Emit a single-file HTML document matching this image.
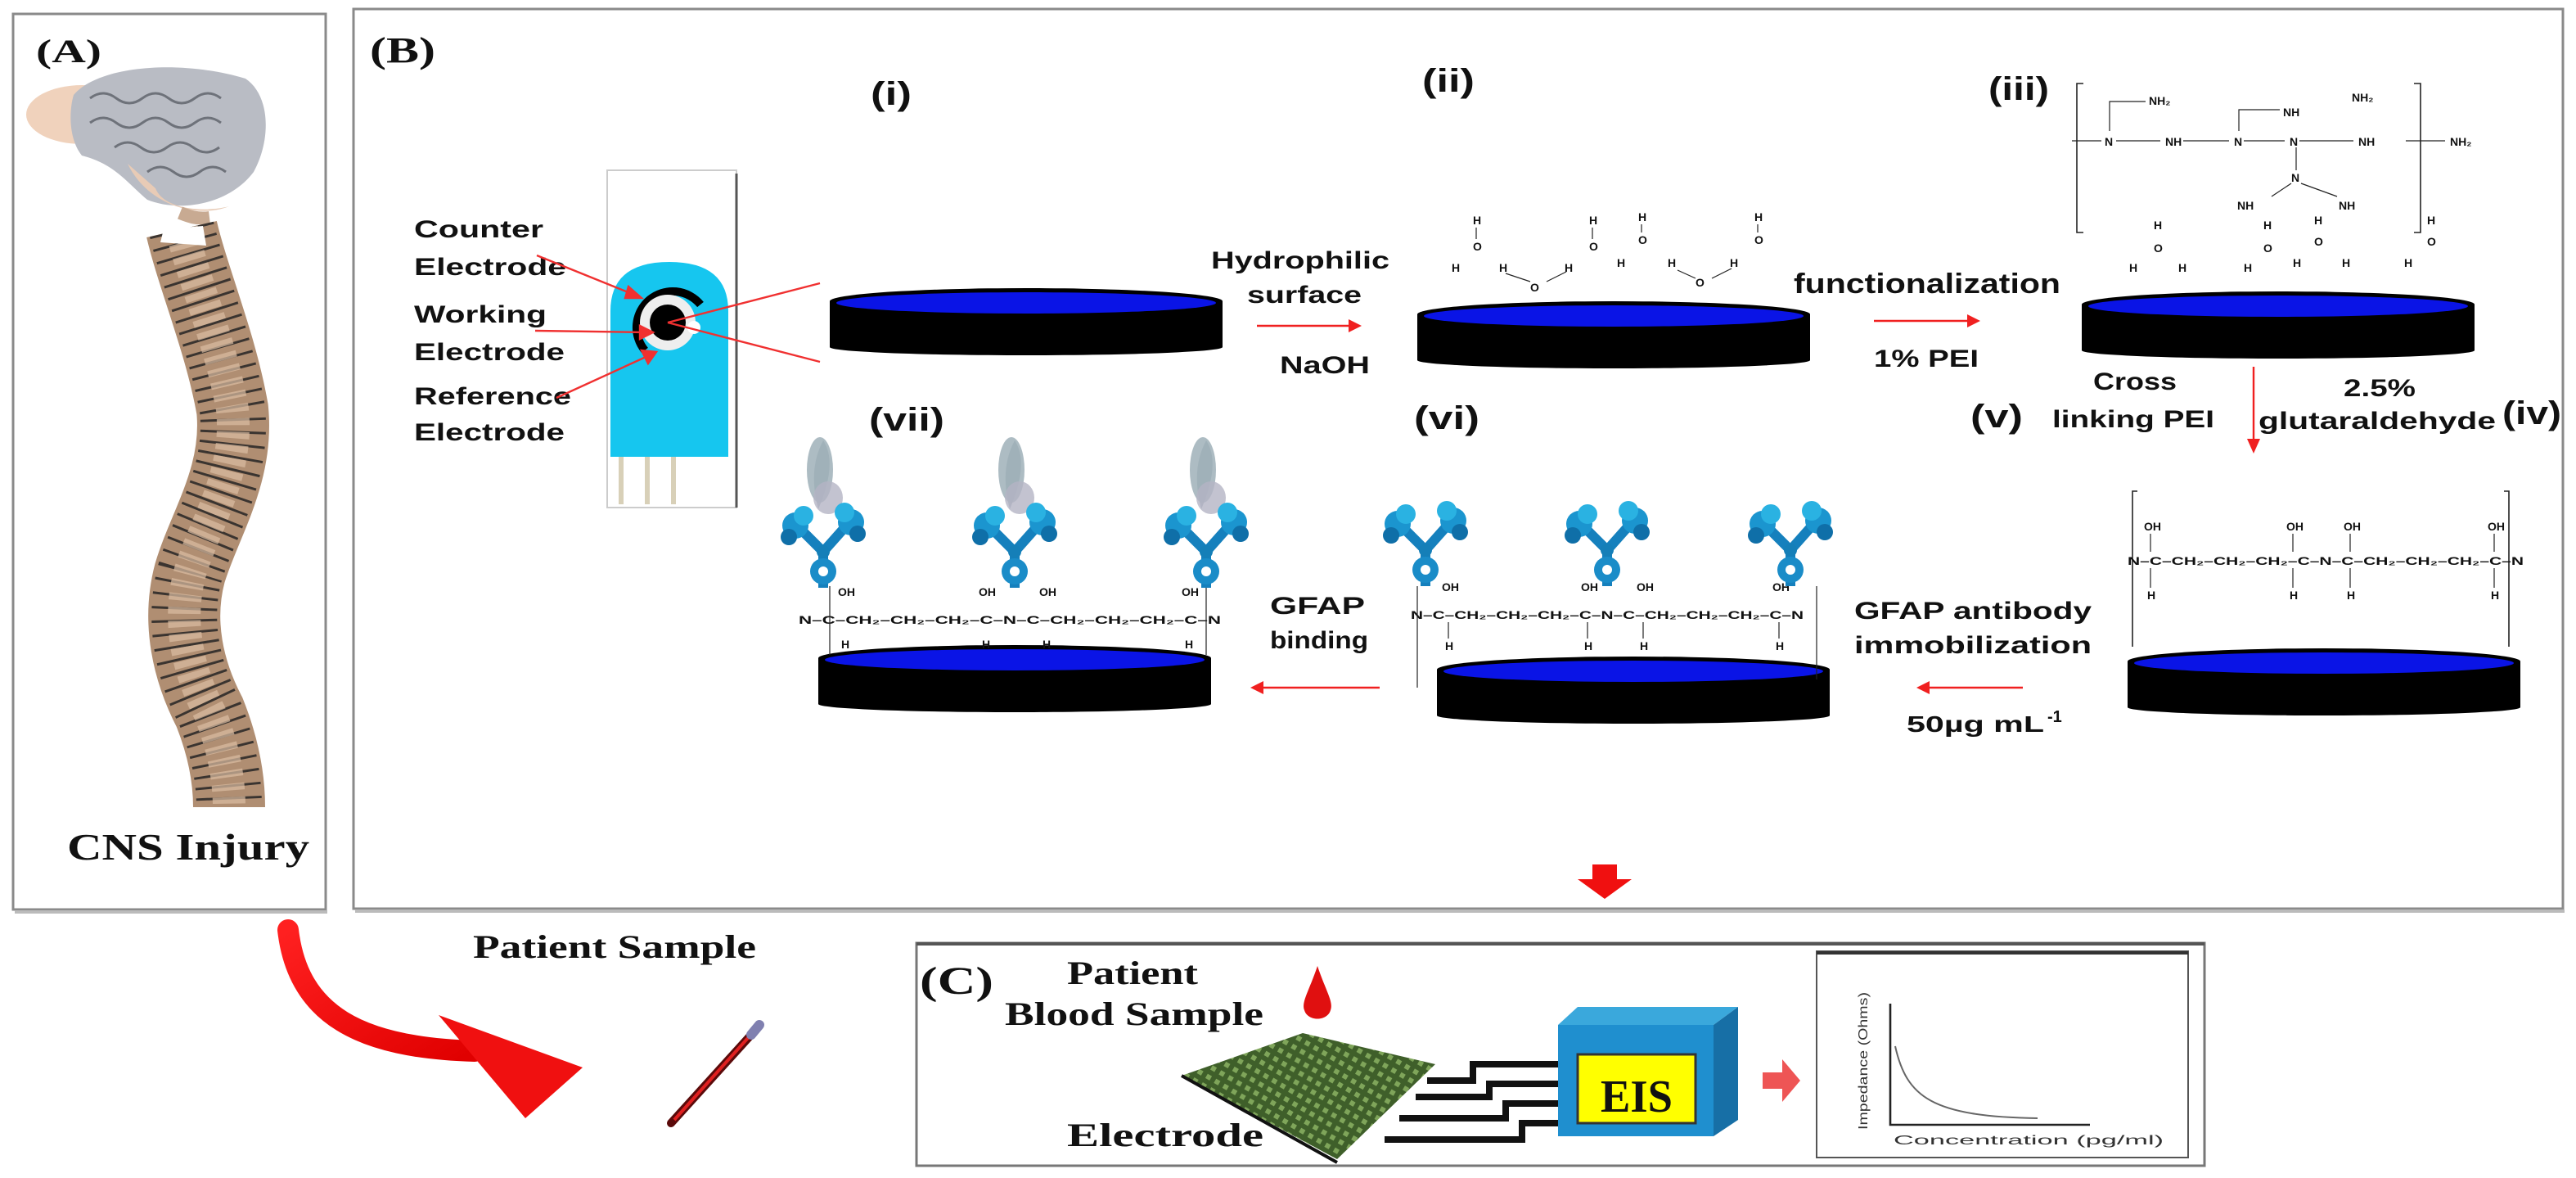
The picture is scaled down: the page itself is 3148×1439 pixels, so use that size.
<!DOCTYPE html>
<html><head><meta charset="utf-8"><style>
html,body{margin:0;padding:0;background:#fff;}
svg{display:block}
.c{font-family:"Liberation Sans",sans-serif;font-weight:bold;fill:#111}
.s{font-family:"Liberation Serif",serif;font-weight:bold;fill:#111}
.t{font-family:"Liberation Sans",sans-serif;font-weight:bold;fill:#111;font-size:7px}
</style></head><body>
<svg width="3148" height="1439" viewBox="0 0 1574 719.5" xmlns="http://www.w3.org/2000/svg">
<defs>
<pattern id="grid" width="6" height="6" patternUnits="userSpaceOnUse" patternTransform="rotate(30)">
<rect width="6" height="6" fill="#3f5f2a"/><rect x="1" y="1" width="3" height="3" fill="#7fa55a"/>
</pattern>
<linearGradient id="rg" x1="0" y1="0" x2="1" y2="1"><stop offset="0" stop-color="#ff2020"/><stop offset="1" stop-color="#e00000"/></linearGradient>
<g id="disc">
<rect x="0" y="8" width="240" height="28" fill="#000"/>
<ellipse cx="120" cy="36" rx="120" ry="5" fill="#000"/>
<ellipse cx="120" cy="8" rx="120" ry="8" fill="#000"/>
<ellipse cx="120" cy="9" rx="116" ry="6.5" fill="#0a14e6"/>
</g>
<g id="ab">
<path d="M0,0 L0,-22 M0,-22 L-16,-38 M0,-22 L16,-40" stroke="#1580bd" stroke-width="6" fill="none"/>
<circle cx="-17" cy="-38" r="8" fill="#1b95cf"/><circle cx="-12" cy="-44" r="6" fill="#2ab2e2"/><circle cx="-21" cy="-31" r="5" fill="#0f6fa8"/>
<circle cx="17" cy="-40" r="8" fill="#1b95cf"/><circle cx="13" cy="-46" r="6" fill="#2ab2e2"/><circle cx="21" cy="-33" r="5" fill="#0f6fa8"/>
<circle cx="0" cy="-10" r="8" fill="#1a8cc8"/><circle cx="0" cy="-10" r="3" fill="#fff"/>
<circle cx="0" cy="-22" r="4" fill="#157fb8"/>
</g>
<g id="ag">
<path d="M0,-90 C-8,-75 -6,-60 -3,-48 C2,-60 8,-78 0,-90Z" fill="#a8b4bc"/>
<ellipse cx="-2" cy="-72" rx="8" ry="20" fill="#9fb0b8" opacity="0.85"/>
<ellipse cx="3" cy="-55" rx="9" ry="10" fill="#b4b4c4" opacity="0.8"/>
</g>
</defs>

<!-- Box A -->
<rect x="8" y="8.5" width="191" height="547" fill="#fff" stroke="#8a8a8a" stroke-width="1.5"/>
<line x1="9" y1="557" x2="200" y2="557" stroke="#bbb" stroke-width="2"/>
<!-- brain -->
<ellipse cx="50" cy="70" rx="34" ry="18" fill="#f0d2bc"/>
<path d="M45,58 C60,40 110,36 150,48 C165,58 166,85 155,105 C140,125 110,130 90,122 C78,112 70,100 50,95 C42,85 42,68 45,58Z" fill="#b9bcc4"/>
<path d="M78,100 C90,125 120,134 140,126 C125,130 100,128 95,115Z" fill="#e8cbb6"/>
<path d="M55,60 q8,-6 16,0 q8,6 16,0 q8,-6 16,0 q8,6 16,0 q8,-6 16,0 M55,75 q8,-6 16,0 q8,6 16,0 q8,-6 16,0 q8,6 16,0 q8,-6 16,0 M70,90 q8,-6 16,0 q8,6 16,0 q8,-6 16,0 q8,6 16,0 M90,105 q8,-6 16,0 q8,6 16,0 q8,-6 16,0" stroke="#6e727a" stroke-width="1.5" fill="none"/>
<path d="M110,130 C115,132 120,134 128,133" stroke="#c8aa92" stroke-width="8" fill="none"/>
<text class="s" x="22" y="38" font-size="20" textLength="40" lengthAdjust="spacingAndGlyphs">(A)</text>
<!-- spine -->
<path d="M111,140 C118,170 135,210 142,250 C146,290 125,320 116,350 C108,380 115,410 128,435 C138,460 140,480 140,493" stroke="#b08e72" stroke-width="44" fill="none"/>
<path d="M111,140 C118,170 135,210 142,250 C146,290 125,320 116,350 C108,380 115,410 128,435 C138,460 140,480 140,493" stroke="#3a3430" stroke-width="40" stroke-dasharray="1.5 6" fill="none"/>
<path d="M111,140 C118,170 135,210 142,250 C146,290 125,320 116,350 C108,380 115,410 128,435 C138,460 140,480 140,493" stroke="#dcbda2" stroke-width="20" stroke-dasharray="4 4" fill="none" opacity="0.7"/>
<path d="M98,148 L100,140 L124,138 L126,150Z" fill="#fff"/>
<text class="s" x="41" y="525" font-size="23" textLength="148" lengthAdjust="spacingAndGlyphs">CNS Injury</text>

<!-- Box B -->
<rect x="216" y="5.5" width="1350" height="549.5" fill="none" stroke="#8a8a8a" stroke-width="1.5"/>
<line x1="217" y1="556.5" x2="1567" y2="556.5" stroke="#bbb" stroke-width="2"/>
<text class="s" x="226" y="38" font-size="22" textLength="40" lengthAdjust="spacingAndGlyphs">(B)</text>

<!-- electrode strip -->
<rect x="371" y="104" width="79" height="206" fill="#fff" stroke="#ccc" stroke-width="1"/>
<line x1="450" y1="106" x2="450" y2="310" stroke="#555" stroke-width="1.5"/>
<path d="M373,279 L373,190 Q373,160 409,160 Q445,160 445,190 L445,279 Z" fill="#16c6ef"/>
<rect x="378" y="279" width="3" height="29" fill="#d8d0b8"/><rect x="394" y="279" width="3" height="29" fill="#d8d0b8"/><rect x="410" y="279" width="3" height="29" fill="#d8d0b8"/>
<path d="M394,214 A22,22 0 1 1 428,186" stroke="#000" stroke-width="5" fill="none"/>
<circle cx="408" cy="197" r="17" fill="#eee"/>
<circle cx="408" cy="197" r="11" fill="#000"/>
<circle cx="424" cy="200" r="4" fill="#fff"/>
<text class="c" x="253" y="145" font-size="15" textLength="79" lengthAdjust="spacingAndGlyphs">Counter</text>
<text class="c" x="253" y="168" font-size="15" textLength="93" lengthAdjust="spacingAndGlyphs">Electrode</text>
<text class="c" x="253" y="197" font-size="15" textLength="81" lengthAdjust="spacingAndGlyphs">Working</text>
<text class="c" x="253" y="220" font-size="15" textLength="92" lengthAdjust="spacingAndGlyphs">Electrode</text>
<text class="c" x="253" y="247" font-size="15" textLength="96" lengthAdjust="spacingAndGlyphs">Reference</text>
<text class="c" x="253" y="269" font-size="15" textLength="92" lengthAdjust="spacingAndGlyphs">Electrode</text>
<g stroke="#f03030" stroke-width="1.2" fill="#f03030">
<line x1="328" y1="156" x2="390" y2="181"/><polygon points="392,182 384,175 382,182"/>
<line x1="327" y1="202" x2="396" y2="203"/><polygon points="399,203 391,199 391,207"/>
<line x1="340" y1="243" x2="399" y2="216"/><polygon points="401,215 392,214 396,222"/>
<line x1="408" y1="197" x2="501" y2="173"/><line x1="408" y1="197" x2="501" y2="221"/>
</g>

<!-- discs -->
<use href="#disc" x="507" y="176"/>
<use href="#disc" x="866" y="184"/>
<use href="#disc" x="1272" y="178"/>
<use href="#disc" x="500" y="394"/>
<use href="#disc" x="878" y="401"/>
<use href="#disc" x="1300" y="396"/>

<text class="c" x="532" y="64" font-size="20" textLength="25" lengthAdjust="spacingAndGlyphs">(i)</text>
<text class="c" x="869" y="56" font-size="20" textLength="32" lengthAdjust="spacingAndGlyphs">(ii)</text>
<text class="c" x="1215" y="61" font-size="20" textLength="37" lengthAdjust="spacingAndGlyphs">(iii)</text>
<text class="c" x="1529" y="259" font-size="20" textLength="36" lengthAdjust="spacingAndGlyphs">(iv)</text>
<text class="c" x="1204" y="261" font-size="20" textLength="32" lengthAdjust="spacingAndGlyphs">(v)</text>
<text class="c" x="864" y="262" font-size="20" textLength="40" lengthAdjust="spacingAndGlyphs">(vi)</text>
<text class="c" x="531" y="263" font-size="20" textLength="46" lengthAdjust="spacingAndGlyphs">(vii)</text>

<text class="c" x="740" y="164" font-size="15" textLength="109" lengthAdjust="spacingAndGlyphs">Hydrophilic</text>
<text class="c" x="762" y="185" font-size="15" textLength="70" lengthAdjust="spacingAndGlyphs">surface</text>
<text class="c" x="782" y="228" font-size="15" textLength="55" lengthAdjust="spacingAndGlyphs">NaOH</text>
<line x1="768" y1="199" x2="826" y2="199" stroke="#f02020" stroke-width="1.2"/><polygon points="832,199 824,195 824,203" fill="#f02020"/>
<text class="c" x="1096" y="179" font-size="17" textLength="163" lengthAdjust="spacingAndGlyphs">functionalization</text>
<line x1="1145" y1="196" x2="1204" y2="196" stroke="#f02020" stroke-width="1.2"/><polygon points="1210,196 1202,192 1202,200" fill="#f02020"/>
<text class="c" x="1145" y="224" font-size="15" textLength="64" lengthAdjust="spacingAndGlyphs">1% PEI</text>
<text class="c" x="1279" y="238" font-size="15" textLength="51" lengthAdjust="spacingAndGlyphs">Cross</text>
<text class="c" x="1254" y="261" font-size="15" textLength="99" lengthAdjust="spacingAndGlyphs">linking PEI</text>
<text class="c" x="1432" y="242" font-size="15" textLength="44" lengthAdjust="spacingAndGlyphs">2.5%</text>
<text class="c" x="1380" y="262" font-size="15" textLength="145" lengthAdjust="spacingAndGlyphs">glutaraldehyde</text>
<line x1="1377" y1="224" x2="1377" y2="270" stroke="#f02020" stroke-width="1.2"/><polygon points="1377,277 1373,268 1381,268" fill="#f02020"/>

<!-- water ii -->
<g class="t">
<text x="900" y="137">H</text><text x="971" y="137">H</text><text x="1001" y="135">H</text><text x="1072" y="135">H</text>
<text x="900" y="153">O</text><text x="971" y="153">O</text><text x="1001" y="149">O</text><text x="1072" y="149">O</text>
<text x="887" y="166">H</text><text x="916" y="166">H</text><text x="956" y="166">H</text><text x="988" y="163">H</text><text x="1019" y="163">H</text><text x="1057" y="163">H</text>
<text x="935" y="178">O</text><text x="1036" y="175">O</text>
</g>
<g stroke="#222" stroke-width="0.6">
<line x1="902" y1="139" x2="902" y2="146"/><line x1="973" y1="139" x2="973" y2="146"/><line x1="1003" y1="137" x2="1003" y2="142"/><line x1="1074" y1="137" x2="1074" y2="142"/>
<line x1="920" y1="167" x2="935" y2="172"/><line x1="945" y1="172" x2="957" y2="166"/><line x1="1025" y1="165" x2="1036" y2="170"/><line x1="1046" y1="170" x2="1058" y2="164"/>
</g>
<!-- PEI iii -->
<path d="M1273,51 h-4 v91 h4 M1475,51 h4 v91 h-4" stroke="#222" stroke-width="0.8" fill="none"/>
<g class="t">
<text x="1286" y="89">N</text><text x="1323" y="89">NH</text><text x="1365" y="89">N</text><text x="1399" y="89">N</text><text x="1441" y="89">NH</text><text x="1497" y="89">NH₂</text>
<text x="1313" y="64">NH₂</text><text x="1395" y="71">NH</text><text x="1437" y="62">NH₂</text>
<text x="1400" y="111">N</text><text x="1367" y="128">NH</text><text x="1429" y="128">NH</text>
<text x="1316" y="140">H</text><text x="1316" y="154">O</text><text x="1301" y="166">H</text><text x="1331" y="166">H</text>
<text x="1383" y="140">H</text><text x="1383" y="154">O</text><text x="1414" y="137">H</text><text x="1414" y="150">O</text>
<text x="1371" y="166">H</text><text x="1401" y="163">H</text><text x="1431" y="163">H</text>
<text x="1483" y="137">H</text><text x="1483" y="150">O</text><text x="1469" y="163">H</text>
</g>
<g stroke="#222" stroke-width="0.6">
<line x1="1266" y1="86" x2="1284" y2="86"/><line x1="1293" y1="86" x2="1320" y2="86"/><line x1="1334" y1="86" x2="1362" y2="86"/><line x1="1371" y1="86" x2="1396" y2="86"/><line x1="1405" y1="86" x2="1438" y2="86"/><line x1="1470" y1="86" x2="1494" y2="86"/>
<path d="M1289,80 v-18 h22 M1368,80 v-13 h25" fill="none"/><line x1="1403" y1="90" x2="1403" y2="104"/>
<line x1="1400" y1="112" x2="1388" y2="120"/><line x1="1406" y1="112" x2="1428" y2="120"/>
</g>

<!-- structure iv -->
<path d="M1306,300 h-3 v95 M1530,300 h3 v95" stroke="#222" stroke-width="0.8" fill="none"/>
<text class="t" x="1300" y="345" textLength="242" lengthAdjust="spacingAndGlyphs" font-size="7">N–C–CH₂–CH₂–CH₂–C–N–C–CH₂–CH₂–CH₂–C–N</text>
<g class="t"><text x="1310" y="324">OH</text><text x="1397" y="324">OH</text><text x="1432" y="324">OH</text><text x="1520" y="324">OH</text>
<text x="1312" y="366">H</text><text x="1399" y="366">H</text><text x="1434" y="366">H</text><text x="1522" y="366">H</text></g>
<g stroke="#222" stroke-width="0.6"><line x1="1314" y1="326" x2="1314" y2="337"/><line x1="1401" y1="326" x2="1401" y2="337"/><line x1="1436" y1="326" x2="1436" y2="337"/><line x1="1524" y1="326" x2="1524" y2="337"/>
<line x1="1314" y1="347" x2="1314" y2="359"/><line x1="1401" y1="347" x2="1401" y2="359"/><line x1="1436" y1="347" x2="1436" y2="359"/><line x1="1524" y1="347" x2="1524" y2="359"/></g>

<!-- structure vi -->
<text class="t" x="862" y="378" textLength="240" lengthAdjust="spacingAndGlyphs" font-size="7">N–C–CH₂–CH₂–CH₂–C–N–C–CH₂–CH₂–CH₂–C–N</text>
<g class="t"><text x="881" y="361">OH</text><text x="966" y="361">OH</text><text x="1000" y="361">OH</text><text x="1083" y="361">OH</text>
<text x="883" y="397">H</text><text x="968" y="397">H</text><text x="1002" y="397">H</text><text x="1085" y="397">H</text></g>
<g stroke="#222" stroke-width="0.6"><line x1="866" y1="358" x2="866" y2="420"/><line x1="1110" y1="358" x2="1110" y2="415"/>
<line x1="885" y1="380" x2="885" y2="390"/><line x1="970" y1="380" x2="970" y2="390"/><line x1="1004" y1="380" x2="1004" y2="390"/><line x1="1087" y1="380" x2="1087" y2="390"/></g>
<use href="#ab" x="871" y="358"/><use href="#ab" x="982" y="358"/><use href="#ab" x="1094" y="358"/>

<!-- structure vii -->
<text class="t" x="488" y="381" textLength="258" lengthAdjust="spacingAndGlyphs" font-size="7">N–C–CH₂–CH₂–CH₂–C–N–C–CH₂–CH₂–CH₂–C–N</text>
<g class="t"><text x="512" y="364">OH</text><text x="598" y="364">OH</text><text x="635" y="364">OH</text><text x="722" y="364">OH</text>
<text x="514" y="396">H</text><text x="600" y="396">H</text><text x="637" y="396">H</text><text x="724" y="396">H</text></g>
<g stroke="#222" stroke-width="0.6"><line x1="507" y1="358" x2="507" y2="400"/><line x1="737" y1="358" x2="737" y2="400"/></g>
<use href="#ag" x="503" y="359"/><use href="#ag" x="620" y="359"/><use href="#ag" x="737" y="359"/>
<use href="#ab" x="503" y="359"/><use href="#ab" x="620" y="359"/><use href="#ab" x="737" y="359"/>

<text class="c" x="776" y="375" font-size="15" textLength="58" lengthAdjust="spacingAndGlyphs">GFAP</text>
<text class="c" x="776" y="396" font-size="15" textLength="60" lengthAdjust="spacingAndGlyphs">binding</text>
<line x1="771" y1="420" x2="843" y2="420" stroke="#f02020" stroke-width="1.2"/><polygon points="764,420 772,416 772,424" fill="#f02020"/>
<text class="c" x="1133" y="378" font-size="15" textLength="145" lengthAdjust="spacingAndGlyphs">GFAP antibody</text>
<text class="c" x="1133" y="399" font-size="15" textLength="145" lengthAdjust="spacingAndGlyphs">immobilization</text>
<line x1="1178" y1="420" x2="1236" y2="420" stroke="#f02020" stroke-width="1.2"/><polygon points="1171,420 1179,416 1179,424" fill="#f02020"/>
<text class="c" x="1165" y="447" font-size="14" textLength="84" lengthAdjust="spacingAndGlyphs">50µg mL</text>
<text class="c" x="1251" y="441" font-size="10">-1</text>

<!-- big down arrow -->
<polygon points="973,528 988,528 988,537 997,537 980.5,549 964,537 973,537" fill="#f01010"/>

<!-- curved arrow -->
<path d="M176,568 C182,620 220,640 290,642" stroke="url(#rg)" stroke-width="13" fill="none" stroke-linecap="round"/>
<polygon points="268,620 356,652 321,683" fill="#f01010"/>
<text class="s" x="289" y="585" font-size="20" textLength="173" lengthAdjust="spacingAndGlyphs">Patient Sample</text>
<!-- tube -->
<line x1="410" y1="686" x2="459" y2="632" stroke="#5a0a0a" stroke-width="5" stroke-linecap="round"/>
<line x1="412" y1="684" x2="457" y2="634" stroke="#e02020" stroke-width="2"/>
<line x1="459" y1="632" x2="464" y2="626" stroke="#8080b0" stroke-width="6" stroke-linecap="round"/>

<!-- Box C -->
<rect x="560" y="576" width="787" height="136" fill="#fff" stroke="#777" stroke-width="1.5"/>
<line x1="560" y1="576.5" x2="1347" y2="576.5" stroke="#555" stroke-width="2"/>
<text class="s" x="562" y="607" font-size="24" textLength="45" lengthAdjust="spacingAndGlyphs" font-weight="normal">(C)</text>
<text class="s" x="652" y="601" font-size="20" textLength="80" lengthAdjust="spacingAndGlyphs">Patient</text>
<text class="s" x="614" y="626" font-size="20" textLength="158" lengthAdjust="spacingAndGlyphs">Blood Sample</text>
<path d="M805,590 C800,605 795,612 797,617 C799,624 811,624 813,617 C815,612 810,605 805,590Z" fill="#e01010"/>
<polygon points="796,631 877,650 817,708 722,657" fill="url(#grid)"/>
<polyline points="722,657 817,710" stroke="#111" stroke-width="2" fill="none"/>
<g stroke="#111" stroke-width="4" fill="none">
<polyline points="872,660 900,660 900,650 952,650"/>
<polyline points="865,670 910,670 910,662 952,662"/>
<polyline points="855,683 920,683 920,674 952,674"/>
<polyline points="846,696 930,696 930,686 952,686"/>
</g>
<text class="s" x="652" y="700" font-size="20" textLength="120" lengthAdjust="spacingAndGlyphs">Electrode</text>
<polygon points="952,626 964,615 1062,615 1047,626" fill="#3aa8dc"/>
<polygon points="1047,626 1062,615 1062,684 1047,694" fill="#176fa6"/>
<rect x="952" y="626" width="95" height="68" fill="#1f8fcf"/>
<rect x="964" y="644" width="72" height="42" fill="#ffff00" stroke="#333" stroke-width="1.5"/>
<text class="s" x="978" y="679" font-size="28" textLength="44" lengthAdjust="spacingAndGlyphs" font-weight="normal">EIS</text>
<polygon points="1077,655 1089,655 1089,647 1100,660 1089,673 1089,665 1077,665" fill="#ee5555"/>
<rect x="1110" y="581" width="227" height="126" fill="#fff" stroke="#555" stroke-width="1"/>
<line x1="1110" y1="582" x2="1337" y2="582" stroke="#333" stroke-width="2"/>
<path d="M1155,613 V687 H1277" stroke="#222" stroke-width="1.3" fill="none"/>
<path d="M1158,639 C1165,670 1180,682 1245,683" stroke="#666" stroke-width="1" fill="none"/>
<text x="1141" y="690" font-family="Liberation Sans,sans-serif" font-size="8" fill="#333" transform="rotate(-90 1141 690)" textLength="84" lengthAdjust="spacingAndGlyphs">Impedance (Ohms)</text>
<text x="1157" y="699" font-family="Liberation Sans,sans-serif" font-size="8" fill="#333" textLength="165" lengthAdjust="spacingAndGlyphs">Concentration (pg/ml)</text>
</svg>
</body></html>
